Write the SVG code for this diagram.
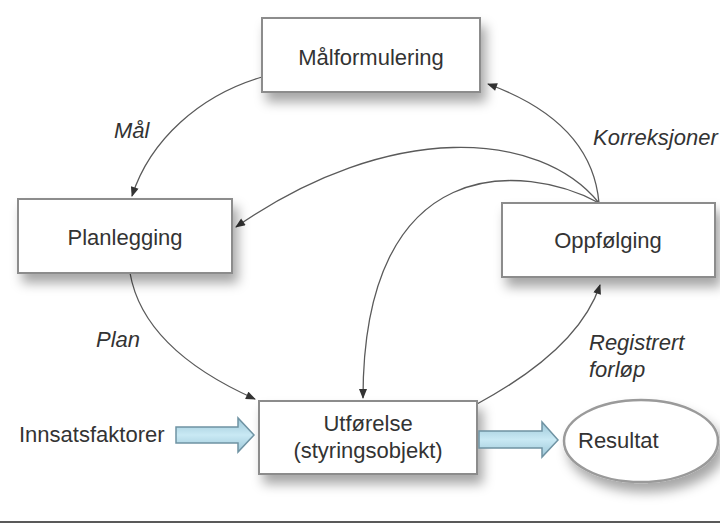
<svg xmlns="http://www.w3.org/2000/svg" width="720" height="524" viewBox="0 0 720 524">
<defs>
<style>
.box{fill:#ffffff;stroke:#8c8c8c;stroke-width:2;filter:url(#sh)}
.lbl{font-family:"Liberation Sans",Arial,sans-serif;font-size:22px;fill:#333333}
.it{font-family:"Liberation Sans",Arial,sans-serif;font-size:22px;font-style:italic;fill:#333333}
.con{fill:none;stroke:#5a5a5a;stroke-width:1.3;marker-end:url(#ah)}
.blk{fill:url(#bg);stroke:#6f93a3;stroke-width:1.5}
</style>
<filter id="sh" x="-20%" y="-30%" width="150%" height="180%">
<feDropShadow dx="5" dy="9" stdDeviation="6" flood-color="#000" flood-opacity="0.35"/>
</filter>
<linearGradient id="bg" x1="0" y1="0" x2="0" y2="1">
<stop offset="0" stop-color="#9cc7d8"/>
<stop offset="0.5" stop-color="#c9e9f4"/>
<stop offset="1" stop-color="#9cc7d8"/>
</linearGradient>
<marker id="ah" viewBox="0 0 10 8" refX="9" refY="4" markerWidth="11" markerHeight="8" markerUnits="userSpaceOnUse" orient="auto">
<path d="M0,0 L10,4 L0,8 z" fill="#333333"/>
</marker>
</defs>
<rect width="720" height="524" fill="#ffffff"/>

<g id="connectors">
<path class="con" d="M262,77 C200,95 150,140 132,196"/>
<path class="con" d="M599,203 Q592,122 488,84"/>
<path class="con" d="M599,203 C540,130 390,120 236,227"/>
<path class="con" d="M599,203 C525,163 363,150 363,398"/>
<path class="con" d="M130,273 C140,330 190,370 255,399"/>
<path class="con" d="M477,404 C540,370 585,330 600,285"/>
</g>

<g id="node-malformulering">
<rect class="box" x="262" y="18" width="218" height="74"/>
<text class="lbl" x="371" y="65" text-anchor="middle">Målformulering</text>
</g>

<g id="node-planlegging">
<rect class="box" x="18" y="199" width="214" height="74"/>
<text class="lbl" x="125" y="245" text-anchor="middle">Planlegging</text>
</g>

<g id="node-oppfolging">
<rect class="box" x="502" y="203" width="213" height="74"/>
<text class="lbl" x="608" y="248" text-anchor="middle">Oppfølging</text>
</g>

<g id="node-utforelse">
<rect class="box" x="259" y="401" width="218" height="73"/>
<text class="lbl" x="368" y="431" text-anchor="middle">Utførelse</text>
<text class="lbl" x="368" y="458" text-anchor="middle">(styringsobjekt)</text>
</g>

<g id="node-resultat">
<ellipse cx="641" cy="441" rx="77" ry="41" fill="#ffffff" stroke="#9a9a9a" stroke-width="2.5" filter="url(#sh)"/>
<text class="lbl" x="578" y="448">Resultat</text>
</g>

<g id="node-innsatsfaktorer">
<text class="lbl" x="19" y="442">Innsatsfaktorer</text>
<path class="blk" d="M176,427 L238,427 L238,418 L254,435 L238,452 L238,443 L176,443 z"/>
</g>

<g id="block-arrow-resultat">
<path class="blk" d="M479,431 L542,431 L542,422 L558,440 L542,457 L542,448 L479,448 z"/>
</g>

<g id="labels">
<text class="it" x="114" y="138">Mål</text>
<text class="it" x="593" y="145">Korreksjoner</text>
<text class="it" x="96" y="347">Plan</text>
<text class="it" x="589" y="350">Registrert</text>
<text class="it" x="589" y="377">forløp</text>
</g>

<line x1="0" y1="522" x2="720" y2="522" stroke="#222222" stroke-width="1.5"/>
</svg>
